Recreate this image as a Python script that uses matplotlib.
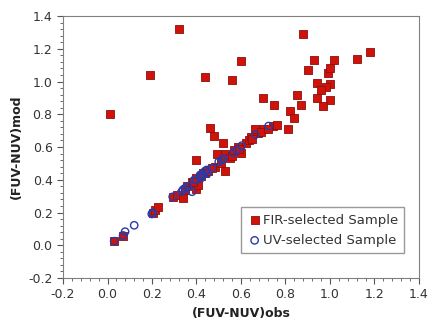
import matplotlib
matplotlib.use("Agg")
import matplotlib.pyplot as plt
from matplotlib.ticker import MultipleLocator

# FIR-selected sample (obs, mod)
fir_obs = [0.01, 0.19, 0.32, 0.44, 0.56, 0.60, 0.88, 0.93, 1.02, 1.12, 1.18,
           0.90, 0.99, 1.00, 0.94, 1.00, 0.98, 0.96, 0.94, 1.00, 0.97, 0.85,
           0.87, 0.82, 0.84, 0.81, 0.70, 0.75, 0.46, 0.48, 0.52, 0.40,
           0.03, 0.068, 0.203, 0.213, 0.228, 0.293, 0.311, 0.338, 0.359, 0.378,
           0.398, 0.408, 0.40, 0.383, 0.43, 0.438, 0.453, 0.483, 0.528, 0.509,
           0.49, 0.528, 0.55, 0.558, 0.60, 0.585, 0.621, 0.637, 0.645, 0.678,
           0.664, 0.70, 0.745, 0.762, 0.35, 0.42, 0.47, 0.57, 0.59, 0.65,
           0.69, 0.72]
fir_mod = [0.80, 1.04, 1.32, 1.03, 1.01, 1.125, 1.29, 1.13, 1.13, 1.135, 1.18,
           1.07, 1.05, 1.08, 0.99, 0.985, 0.965, 0.95, 0.90, 0.89, 0.85, 0.92,
           0.855, 0.82, 0.775, 0.71, 0.90, 0.855, 0.715, 0.665, 0.627, 0.523,
           0.025, 0.058, 0.20, 0.215, 0.235, 0.296, 0.307, 0.29, 0.362, 0.388,
           0.342, 0.368, 0.409, 0.388, 0.439, 0.443, 0.455, 0.48, 0.453, 0.50,
           0.555, 0.557, 0.531, 0.545, 0.561, 0.598, 0.626, 0.643, 0.663, 0.684,
           0.708, 0.708, 0.728, 0.734, 0.34, 0.42, 0.47, 0.58, 0.59, 0.65,
           0.69, 0.71]

# UV-selected sample (obs, mod)
uv_obs = [0.03, 0.07, 0.079, 0.12, 0.199, 0.203, 0.293, 0.333, 0.348, 0.38,
          0.389, 0.416, 0.416, 0.438, 0.446, 0.468, 0.513, 0.50, 0.52, 0.565,
          0.581, 0.603, 0.664, 0.724, 0.45, 0.43, 0.40, 0.36, 0.34, 0.42]
uv_mod = [0.025, 0.06, 0.083, 0.122, 0.191, 0.199, 0.296, 0.327, 0.348, 0.327,
          0.398, 0.419, 0.429, 0.453, 0.46, 0.47, 0.521, 0.51, 0.53, 0.565,
          0.582, 0.608, 0.675, 0.728, 0.44, 0.43, 0.40, 0.36, 0.34, 0.41]

fig = plt.figure(figsize=(4.36, 3.27), dpi=100)
ax = fig.add_axes([0.1445, 0.1498, 0.8165, 0.8012])

ax.scatter(fir_obs, fir_mod, marker='s', s=30, facecolor='#d01208',
           edgecolor='#8a1010', linewidth=0.6, label='FIR-selected Sample', zorder=2)
ax.scatter(uv_obs, uv_mod, marker='o', s=28, facecolor='none',
           edgecolor='#2a3aa8', linewidth=1.0, label='UV-selected Sample', zorder=3)

ax.set_xlim(-0.2, 1.4)
ax.set_ylim(-0.2, 1.4)
ax.xaxis.set_major_locator(MultipleLocator(0.2))
ax.yaxis.set_major_locator(MultipleLocator(0.2))
ax.xaxis.set_minor_locator(MultipleLocator(0.04))
ax.yaxis.set_minor_locator(MultipleLocator(0.04))
ax.xaxis.set_major_formatter(plt.FormatStrFormatter('%.1f'))
ax.yaxis.set_major_formatter(plt.FormatStrFormatter('%.1f'))
ax.tick_params(which='major', direction='out', length=4, color='#555555',
               labelsize=9, labelcolor='#333333')
ax.tick_params(which='minor', direction='out', length=2, color='#555555')
for sp in ax.spines.values():
    sp.set_color('#808080')

ax.set_xlabel('(FUV-NUV)obs', fontsize=9, fontweight='bold', color='#222222')
ax.set_ylabel('(FUV-NUV)mod', fontsize=9, fontweight='bold', color='#222222')

leg = ax.legend(loc='lower right', bbox_to_anchor=(0.9775, 0.0687), fontsize=9.5,
                fancybox=False, edgecolor='#808080', handletextpad=0.1,
                handlelength=1.0, borderpad=0.5, labelspacing=0.55)
for t in leg.get_texts():
    t.set_color('#333333')

fig.savefig('out.png', dpi=100)
